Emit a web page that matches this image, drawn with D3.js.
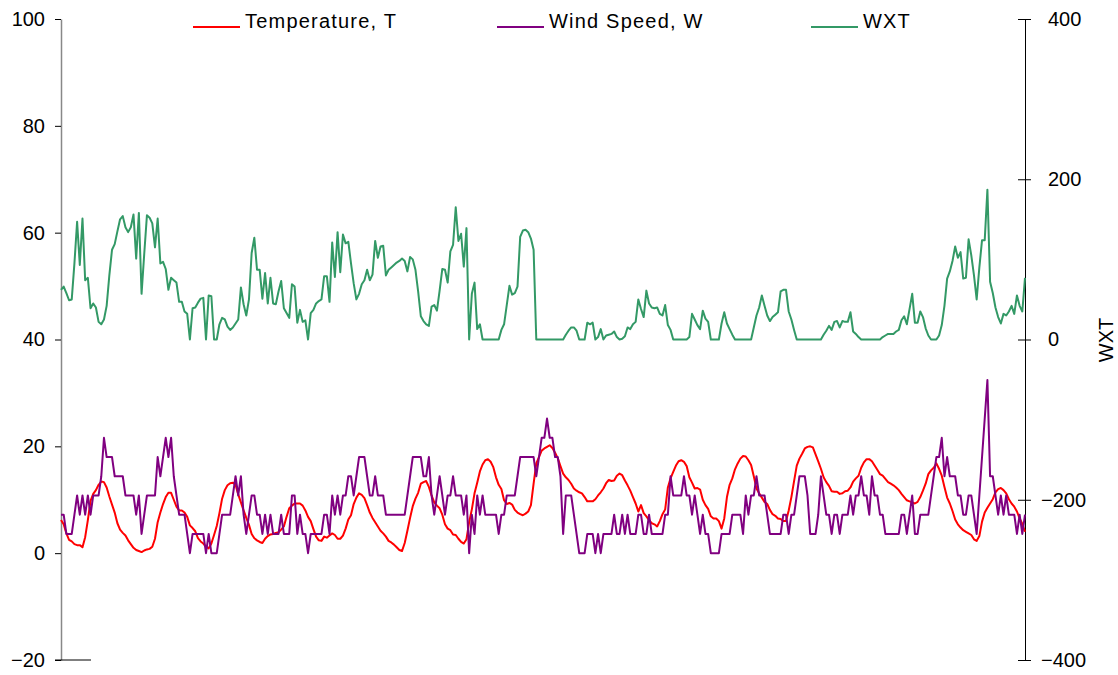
<!DOCTYPE html>
<html>
<head>
<meta charset="utf-8">
<script src="https://cdn.jsdelivr.net/npm/d3@7"></script>
<style>
  body { margin: 0; background: #fff; }
  svg text { font-family: "Liberation Sans", Arial, sans-serif; font-size: 20px; fill: #000; }
  .legend text { letter-spacing: 1.2px; }
</style>
</head>
<body>
<svg id="chart" width="1118" height="675"></svg>
<script>
// hourly readings, 15 days
const temperature = [
  6.2, 5.4, 3.7, 2.5, 2.2, 1.7, 1.5, 1.5, 1.1, 3.0,
  6.2, 9.8, 11.1, 11.8, 12.8, 13.4, 13.3, 12.3, 10.6, 9.1,
  7.6, 5.6, 4.4, 3.8, 3.3, 2.4, 1.7, 1.0, 0.6, 0.4,
  0.2, 0.5, 0.7, 0.8, 1.2, 2.7, 5.8, 7.6, 9.2, 10.5,
  11.3, 11.3, 10.0, 8.7, 8.0, 8.0, 7.6, 6.8, 5.2, 4.7,
  4.1, 2.8, 2.2, 1.8, 1.2, 0.9, 1.8, 3.4, 5.1, 7.5,
  10.2, 11.8, 12.7, 13.1, 13.2, 12.8, 11.0, 9.5, 8.0, 6.6,
  5.3, 3.6, 2.8, 2.4, 2.1, 1.9, 2.7, 3.2, 3.5, 3.6,
  3.8, 3.9, 4.4, 5.0, 6.8, 8.4, 8.9, 9.3, 9.3, 9.3,
  8.9, 8.0, 6.8, 6.0, 4.5, 3.1, 2.4, 2.3, 3.1, 2.9,
  3.3, 3.7, 3.4, 2.7, 2.7, 3.3, 4.6, 6.3, 7.1, 9.2,
  10.4, 11.2, 10.9, 10.3, 9.0, 7.6, 6.6, 5.8, 5.0, 4.2,
  3.7, 3.1, 2.3, 2.0, 1.6, 1.1, 0.6, 0.4, 1.9, 4.2,
  6.6, 8.8, 10.2, 11.3, 13.0, 13.3, 13.5, 12.4, 10.8, 9.5,
  8.9, 8.4, 7.2, 5.4, 4.6, 4.3, 3.5, 3.4, 2.7, 2.1,
  1.8, 2.6, 5.8, 8.2, 11.2, 13.2, 15.3, 16.6, 17.4, 17.6,
  17.1, 16.1, 14.2, 12.8, 12.0, 9.9, 9.2, 9.4, 9.1, 8.1,
  7.6, 7.3, 7.1, 7.4, 7.8, 9.0, 13.0, 16.8, 18.0, 19.2,
  19.6, 19.9, 20.2, 19.7, 18.8, 17.8, 16.3, 14.9, 14.2, 13.7,
  13.0, 12.1, 11.7, 11.4, 11.2, 10.5, 9.7, 9.7, 9.7, 10.1,
  10.8, 11.4, 12.1, 13.1, 13.7, 13.5, 13.6, 14.5, 14.9, 14.6,
  13.6, 12.7, 11.7, 10.5, 9.3, 7.8, 9.0, 7.5, 6.9, 6.2,
  5.6, 5.4, 5.0, 6.0, 7.3, 8.2, 12.3, 14.0, 15.2, 16.4,
  17.2, 17.4, 17.1, 16.3, 14.2, 13.2, 12.1, 12.2, 11.9, 10.0,
  9.0, 8.3, 6.9, 6.5, 6.5, 6.0, 4.6, 6.5, 10.5, 12.8,
  14.0, 15.7, 16.8, 17.7, 18.2, 18.1, 17.4, 16.5, 14.4, 12.1,
  11.2, 10.4, 9.6, 9.2, 8.1, 7.3, 7.0, 6.5, 6.4, 6.0,
  6.0, 8.0, 10.5, 13.5, 16.4, 17.7, 18.6, 19.6, 19.9, 20.0,
  19.8, 18.5, 17.2, 15.8, 14.2, 13.3, 12.6, 11.6, 11.5, 11.5,
  11.1, 11.2, 11.6, 11.7, 12.3, 13.4, 14.0, 14.5, 16.0, 17.0,
  17.6, 17.6, 17.2, 16.4, 15.6, 14.8, 14.5, 13.9, 13.3, 13.0,
  12.7, 12.3, 11.8, 11.1, 10.5, 9.9, 9.7, 9.5, 9.3, 9.6,
  10.5, 11.7, 13.0, 14.8, 15.5, 16.0, 16.8, 15.8, 14.5, 12.4,
  10.4, 9.3, 7.9, 6.3, 5.4, 4.8, 4.3, 4.0, 3.7, 3.4,
  2.6, 2.3, 3.2, 5.9, 7.6, 8.5, 9.3, 10.1, 11.4, 12.0,
  12.2, 11.8, 11.2, 10.1, 9.3, 8.7, 7.8, 6.5, 5.5, 4.0
];

const windSpeed = [
  7.2, 7.2, 3.6, 3.6, 3.6, 7.2, 10.8, 7.2, 10.8, 7.2,
  10.8, 7.2, 10.8, 10.8, 10.8, 14.4, 21.6, 18, 18, 18,
  14.4, 14.4, 14.4, 14.4, 10.8, 10.8, 10.8, 10.8, 7.2, 10.8,
  3.6, 7.2, 10.8, 10.8, 10.8, 10.8, 18, 14.4, 18, 21.6,
  18, 21.6, 14.4, 10.8, 7.2, 7.2, 7.2, 3.6, 0, 3.6,
  3.6, 3.6, 3.6, 3.6, 0, 3.6, 0, 0, 0, 3.6,
  7.2, 7.2, 7.2, 7.2, 10.8, 14.4, 10.8, 14.4, 7.2, 3.6,
  7.2, 10.8, 10.8, 7.2, 7.2, 3.6, 7.2, 3.6, 7.2, 3.6,
  3.6, 3.6, 7.2, 3.6, 3.6, 3.6, 10.8, 10.8, 3.6, 7.2,
  3.6, 3.6, 0, 3.6, 3.6, 3.6, 3.6, 3.6, 7.2, 7.2,
  3.6, 10.8, 7.2, 10.8, 7.2, 10.8, 10.8, 14.4, 14.4, 10.8,
  14.4, 18, 18, 18, 14.4, 10.8, 10.8, 14.4, 10.8, 10.8,
  10.8, 7.2, 7.2, 7.2, 7.2, 7.2, 7.2, 7.2, 7.2, 10.8,
  14.4, 18, 18, 18, 18, 14.4, 14.4, 18, 10.8, 7.2,
  10.8, 14.4, 10.8, 7.2, 10.8, 10.8, 14.4, 10.8, 10.8, 10.8,
  7.2, 10.8, 0, 7.2, 3.6, 10.8, 7.2, 10.8, 7.2, 7.2,
  7.2, 7.2, 7.2, 3.6, 7.2, 7.2, 10.8, 10.8, 10.8, 10.8,
  14.4, 18, 18, 18, 18, 18, 18, 14.4, 18, 21.6,
  21.6, 25.2, 21.6, 21.6, 18, 18, 14.4, 3.6, 10.8, 10.8,
  10.8, 7.2, 3.6, 0, 0, 0, 3.6, 3.6, 3.6, 0,
  3.6, 0, 3.6, 3.6, 3.6, 3.6, 7.2, 3.6, 3.6, 7.2,
  3.6, 7.2, 3.6, 3.6, 3.6, 7.2, 7.2, 3.6, 3.6, 7.2,
  3.6, 3.6, 3.6, 3.6, 3.6, 7.2, 7.2, 14.4, 10.8, 10.8,
  10.8, 10.8, 14.4, 10.8, 10.8, 7.2, 10.8, 7.2, 3.6, 7.2,
  3.6, 3.6, 0, 0, 0, 0, 3.6, 3.6, 3.6, 3.6,
  7.2, 7.2, 7.2, 7.2, 3.6, 10.8, 7.2, 10.8, 10.8, 14.4,
  10.8, 10.8, 10.8, 7.2, 3.6, 3.6, 3.6, 3.6, 3.6, 7.2,
  7.2, 3.6, 7.2, 7.2, 10.8, 14.4, 14.4, 14.4, 10.8, 3.6,
  3.6, 3.6, 7.2, 14.4, 10.8, 7.2, 7.2, 3.6, 7.2, 7.2,
  3.6, 7.2, 7.2, 7.2, 10.8, 7.2, 10.8, 10.8, 14.4, 10.8,
  10.8, 7.2, 14.4, 10.8, 10.8, 7.2, 7.2, 3.6, 3.6, 3.6,
  3.6, 3.6, 3.6, 7.2, 7.2, 3.6, 7.2, 10.8, 3.6, 3.6,
  7.2, 7.2, 7.2, 7.2, 10.8, 14.4, 18, 18, 21.6, 14.4,
  18, 14.4, 14.4, 14.4, 10.8, 10.8, 7.2, 7.2, 10.8, 10.8,
  7.2, 3.6, 10.8, 18, 25.2, 32.4, 14.4, 14.4, 10.8, 7.2,
  10.8, 7.2, 10.8, 7.2, 7.2, 7.2, 3.6, 7.2, 3.6, 7.2
];

const wxt = [
  62, 66, 58, 49, 50, 95, 147, 93, 151, 74,
  77, 39, 45, 40, 22, 19, 25, 42, 80, 112,
  119, 135, 150, 154, 140, 134, 140, 156, 101, 158,
  57, 107, 155, 152, 145, 115, 151, 95, 97, 88,
  62, 77, 74, 71, 47, 47, 35, 32, 0, 39,
  40, 46, 51, 52, 0, 55, 54, 0, 0, 19,
  27, 25, 16, 12, 15, 20, 25, 65, 44, 30,
  50, 108, 127, 87, 87, 51, 83, 45, 77, 45,
  44, 60, 73, 39, 33, 27, 69, 66, 21, 37,
  22, 24, 0, 33, 37, 45, 48, 50, 79, 79,
  47, 121, 78, 134, 84, 131, 120, 122, 95, 70,
  50, 57, 69, 74, 87, 74, 81, 123, 102, 116,
  117, 80, 87, 90, 93, 96, 98, 101, 98, 85,
  103, 100, 87, 60, 29, 23, 19, 17, 41, 43,
  36, 61, 88, 87, 71, 110, 118, 165, 123, 132,
  91, 139, 0, 57, 71, 13, 19, 0, 0, 0,
  0, 0, 0, 0, 12, 19, 43, 67, 56, 58,
  66, 128, 136, 137, 134, 126, 112, 0, 0, 0,
  0, 0, 0, 0, 0, 0, 0, 0, 6, 11,
  15, 15, 11, 0, 0, 0, 21, 19, 21, 0,
  3, 13, 0, 5, 6, 7, 10, 3, 0, 1,
  4, 15, 13, 19, 22, 50, 38, 28, 61, 45,
  40, 39, 40, 32, 30, 43, 18, 12, 0, 0,
  0, 0, 0, 0, 3, 32, 25, 18, 13, 36,
  26, 22, 0, 0, 0, 0, 20, 34, 20, 13,
  6, 0, 0, 0, 0, 0, 0, 0, 15, 30,
  40, 55, 42, 30, 23, 28, 31, 34, 60, 62,
  62, 35, 25, 12, 0, 0, 0, 0, 0, 0,
  0, 0, 0, 0, 6, 11, 17, 12, 22, 23,
  15, 23, 22, 22, 34, 10, 7, 3, 0, 0,
  0, 0, 0, 0, 0, 0, 3, 5, 7, 7,
  7, 10, 12, 24, 29, 19, 38, 57, 21, 21,
  35, 28, 14, 5, 0, 0, 0, 5, 18, 42,
  76, 85, 98, 116, 102, 109, 76, 77, 125, 105,
  80, 50, 90, 124, 124, 187, 72, 58, 40, 28,
  20, 32, 30, 35, 42, 32, 55, 42, 35, 77
];

const leftTicks = [-20, 0, 20, 40, 60, 80, 100];
const rightTicks = [-400, -200, 0, 200, 400];
const seriesNames = ["Temperature, T", "Wind Speed, W", "WXT"];
const seriesColors = ["#ff0000", "#800080", "#339966"];

const svg = d3.select("#chart");

const x = d3.scaleLinear().domain([0, temperature.length - 1]).range([61, 1025]);
const yLeft = d3.scaleLinear().domain([-20, 100]).range([660, 19]);
const yRight = d3.scaleLinear().domain([-400, 400]).range([660, 19]);

// left axis
const gLeft = svg.append("g")
  .attr("transform", "translate(61,0)")
  .call(d3.axisLeft(yLeft).tickValues(leftTicks).tickSize(6).tickSizeOuter(0).tickPadding(10));
gLeft.select(".domain").attr("stroke", "#888").attr("stroke-width", 1.5);
gLeft.selectAll(".tick line").attr("stroke", "#000");
gLeft.selectAll(".tick text").attr("font-size", null).attr("font-family", null);

// right axis, ticks cross the line
const gRight = svg.append("g")
  .attr("transform", "translate(1025,0)")
  .call(d3.axisRight(yRight).tickValues(rightTicks).tickSize(6).tickSizeOuter(0).tickPadding(17));
gRight.select(".domain").attr("stroke", "#000");
gRight.selectAll(".tick line").attr("x1", -7).attr("stroke", "#000");
gRight.selectAll(".tick text")
  .attr("font-size", null).attr("font-family", null)
  .attr("dx", d => d < 0 ? -7 : 0); // minus sign hangs left

// short bottom axis stub
svg.append("line")
  .attr("x1", 55).attr("x2", 91)
  .attr("y1", yLeft(-20)).attr("y2", yLeft(-20))
  .attr("stroke", "#000");

svg.append("text")
  .attr("transform", "translate(1113,340) rotate(-90)")
  .attr("text-anchor", "middle")
  .text("WXT");

// lines
const lineLeft = d3.line().x((d, i) => x(i)).y(d => yLeft(d));
const lineRight = d3.line().x((d, i) => x(i)).y(d => yRight(d));

svg.append("path").datum(temperature)
  .attr("d", lineLeft).attr("fill", "none")
  .attr("stroke", seriesColors[0]).attr("stroke-width", 2).attr("stroke-linejoin", "round");
svg.append("path").datum(windSpeed)
  .attr("d", lineLeft).attr("fill", "none")
  .attr("stroke", seriesColors[1]).attr("stroke-width", 2).attr("stroke-linejoin", "round");
svg.append("path").datum(wxt)
  .attr("d", lineRight).attr("fill", "none")
  .attr("stroke", seriesColors[2]).attr("stroke-width", 2).attr("stroke-linejoin", "round");

// legend
const legendX = [193, 497, 811];
const legend = svg.append("g").attr("class", "legend");
seriesNames.forEach((name, i) => {
  legend.append("line")
    .attr("x1", legendX[i]).attr("x2", legendX[i] + 47)
    .attr("y1", 27).attr("y2", 27)
    .attr("stroke", seriesColors[i]).attr("stroke-width", 2);
  legend.append("text")
    .attr("x", legendX[i] + 52).attr("y", 28)
    .text(name);
});
</script>
</body>
</html>
